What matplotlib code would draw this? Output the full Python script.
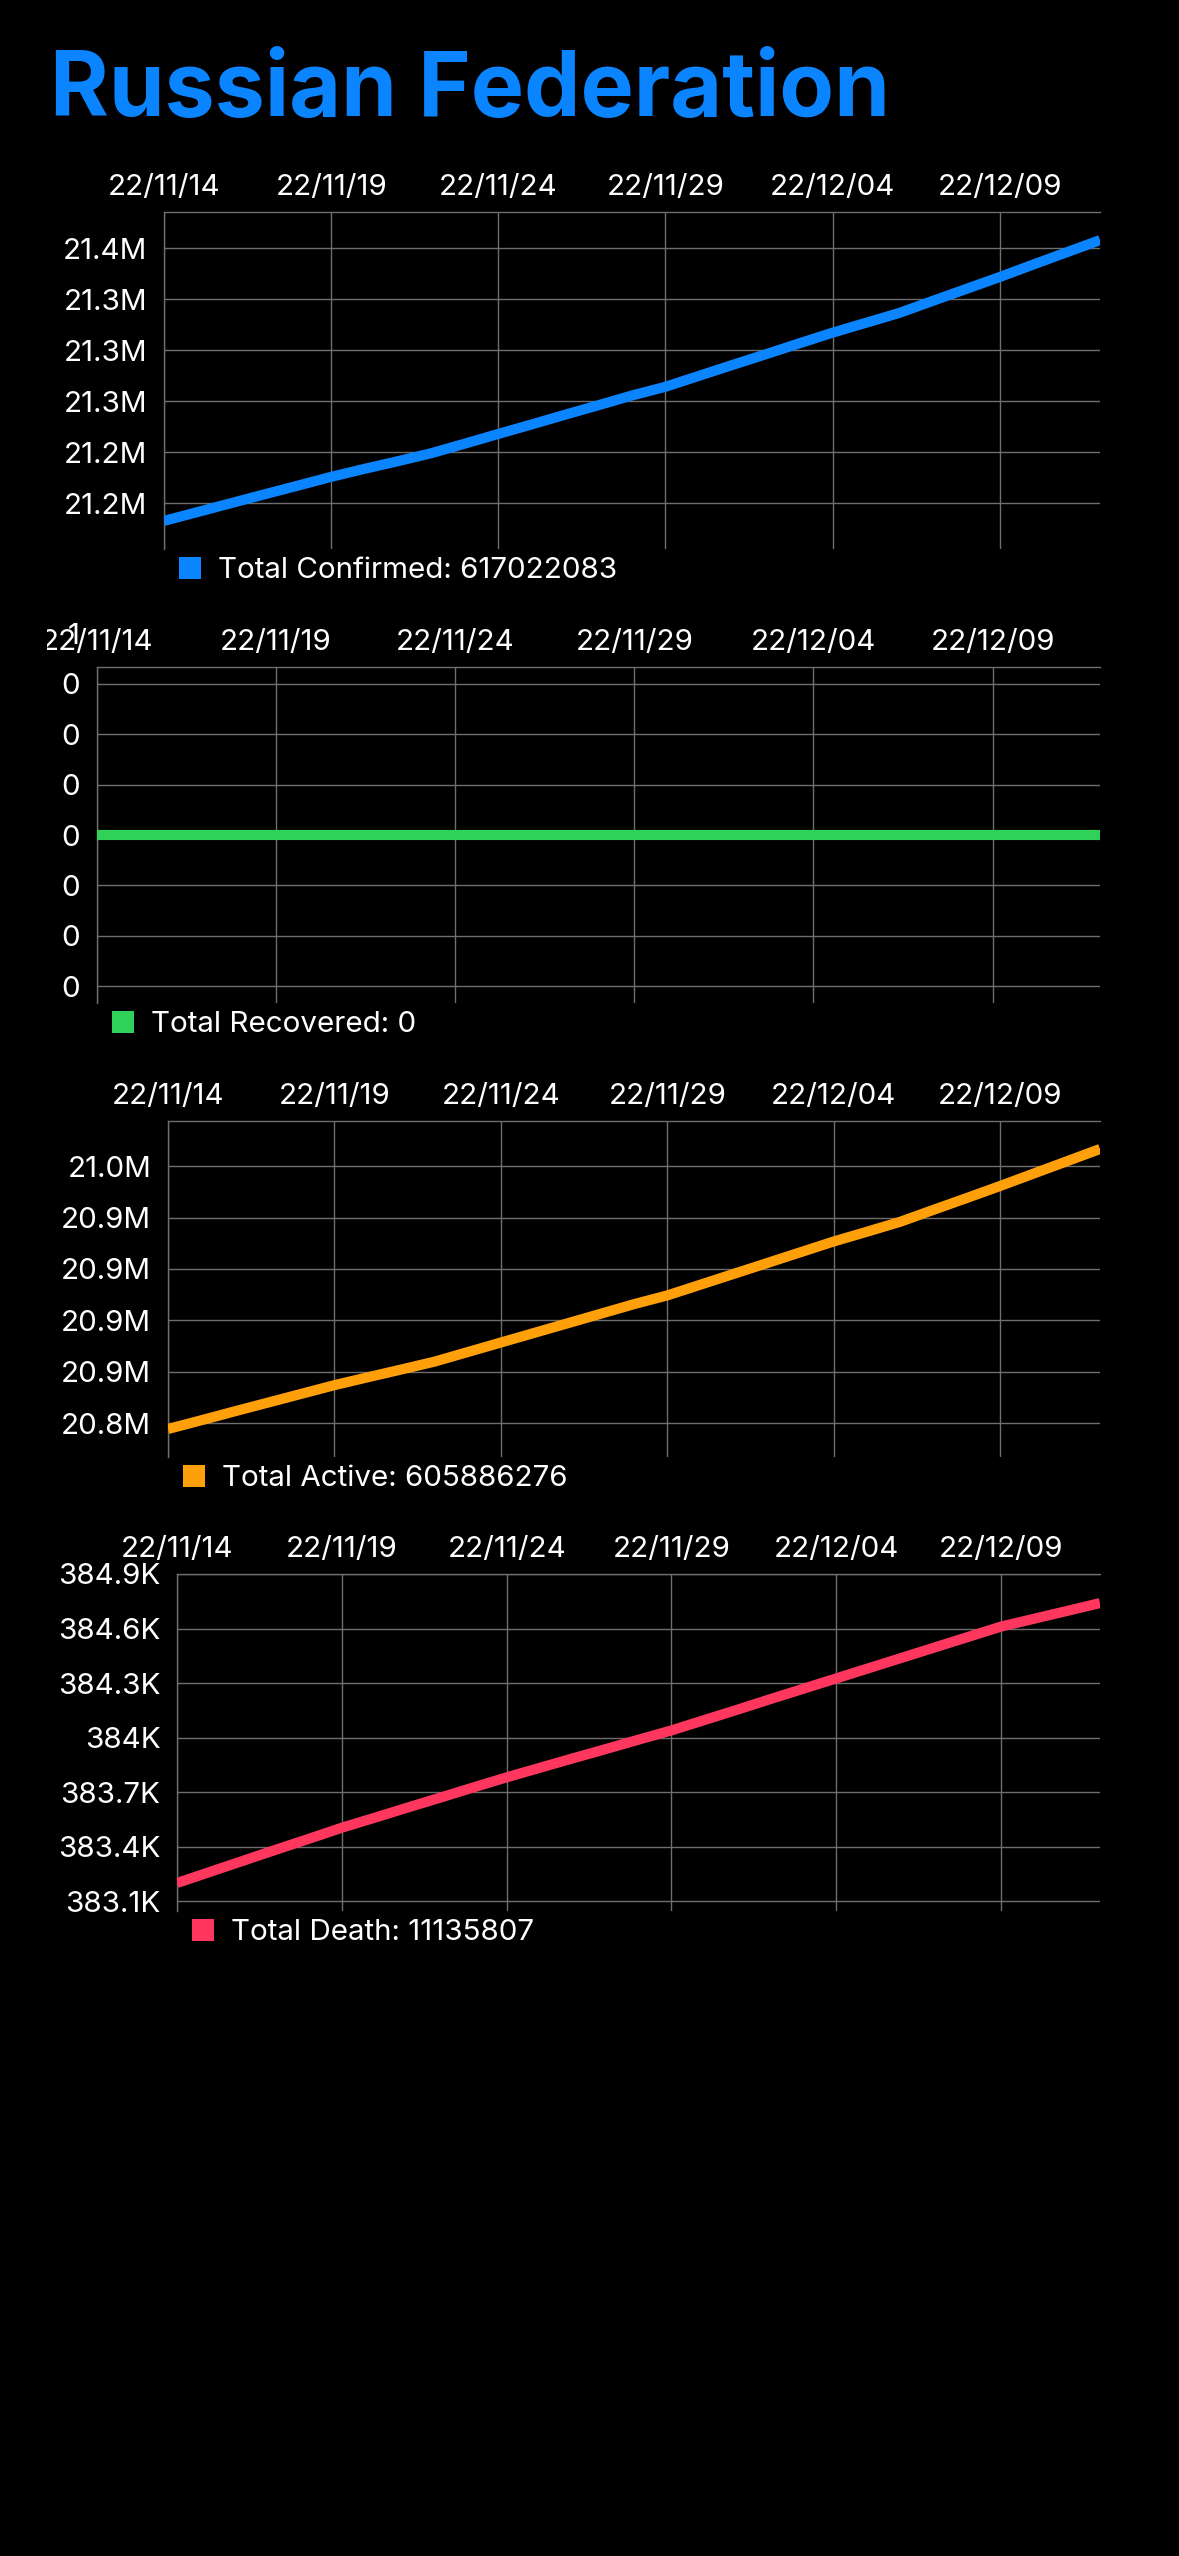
import numpy as np
import matplotlib
matplotlib.use("Agg")
import matplotlib.pyplot as plt
import matplotlib.dates as mdates
from matplotlib.patches import Rectangle
from matplotlib.transforms import Affine2D, Bbox, TransformedBbox, offset_copy, blended_transform_factory

W, H, DPI = 1179, 2556, 100

plt.rcParams['font.family'] = ['Inter', 'DejaVu Sans']

country = "Russian Federation"

# one point per day, 22/11/14 .. 22/12/12
dates = np.arange("2022-11-14", "2022-12-13", dtype="datetime64[D]")
tick_dates = np.array(["2022-11-14", "2022-11-19", "2022-11-24",
                       "2022-11-29", "2022-12-04", "2022-12-09"], dtype="datetime64[D]")

confirmed = [21199700, 21204900, 21210100, 21215300, 21220400, 21225600, 21230300,
             21234800, 21239500, 21245100, 21250800, 21256400, 21262100, 21267700,
             21273400, 21278500, 21284900, 21291300, 21297600, 21304000, 21310300,
             21316100, 21321900, 21329000, 21336000, 21343000, 21350300, 21357500,
             21364700]
recovered = [0, 0, 0, 0, 0, 0, 0, 0, 0, 0, 0, 0, 0, 0, 0,
             0, 0, 0, 0, 0, 0, 0, 0, 0, 0, 0, 0, 0, 0]
active = [20816500, 20821600, 20826800, 20831900, 20837000, 20842100, 20846700,
          20851200, 20855800, 20861400, 20867000, 20872600, 20878200, 20883800,
          20889400, 20894500, 20900800, 20907100, 20913400, 20919700, 20926000,
          20931700, 20937500, 20944500, 20951400, 20958400, 20965600, 20972800,
          20980000]
deaths = [383201, 383262, 383323, 383384, 383444, 383505, 383560, 383616,
          383671, 383727, 383782, 383834, 383886, 383937, 383989, 384040,
          384097, 384154, 384212, 384269, 384326, 384383, 384440, 384497,
          384554, 384611, 384654, 384697, 384740]

series_names = ["Total Confirmed", "Total Recovered", "Total Active", "Total Death"]
totals = [617022083, 0, 605886276, 11135807]
colors = ["#0A84FF", "#30D158", "#FF9F0A", "#FF375F"]

y_ticks = [
    [21210000, 21240000, 21270000, 21300000, 21330000, 21360000],
    [-0.9, -0.6, -0.3, 0, 0.3, 0.6, 0.9],
    [20820000, 20850000, 20880000, 20910000, 20940000, 20970000],
    [383100, 383400, 383700, 384000, 384300, 384600, 384900],
]
y_labels = [
    ["21.2M", "21.2M", "21.3M", "21.3M", "21.3M", "21.4M"],
    ["0", "0", "0", "0", "0", "0", "0"],
    ["20.8M", "20.9M", "20.9M", "20.9M", "20.9M", "21.0M"],
    ["383.1K", "383.4K", "383.7K", "384K", "384.3K", "384.6K", "384.9K"],
]

# plot boxes in pixels: left, top, right, bottom
boxes = [(164, 212, 1100, 549), (97, 667, 1100, 1003),
         (168, 1121, 1100, 1457), (177, 1574, 1100, 1911)]

GRID = "#6e6e6e"
FS = 21.3

fig = plt.figure(figsize=(W / DPI, H / DPI), dpi=DPI, facecolor="black")
px = Affine2D().scale(1.0 / W, -1.0 / H).translate(0, 1) + fig.transFigure

fig.text(50, 116, country, transform=px, color="#0A84FF", fontsize=64.5,
         fontweight="bold", va="baseline", ha="left")

all_series = [confirmed, recovered, active, deaths]

for i, values in enumerate(all_series):
    l, t, r, b = boxes[i]
    ax = fig.add_axes([l / W, 1 - b / H, (r - l) / W, (b - t) / H])
    ax.set_facecolor("black")
    ax.plot(dates, values, color=colors[i], lw=7.3,
            solid_capstyle="butt", solid_joinstyle="round", zorder=3)
    ax.set_xlim(dates[0], dates[-1])
    lo, hi = min(values), max(values)
    if hi == lo:
        ax.set_ylim(lo - 1, hi + 1)
    else:
        pad = 0.1 * (hi - lo)
        ax.set_ylim(lo - pad, hi + pad)

    ax.set_xticks(tick_dates)
    ax.xaxis.set_major_formatter(mdates.DateFormatter("%y/%m/%d"))
    ax.set_yticks(y_ticks[i], y_labels[i])
    ax.xaxis.tick_top()
    ax.tick_params(axis="x", length=0, colors="white", labelsize=FS, pad=8)
    ax.tick_params(axis="y", length=0, colors="white", labelsize=FS, pad=12)
    ax.grid(True, color=GRID, lw=1.0)
    for side in ["bottom", "right"]:
        ax.spines[side].set_visible(False)
    for side in ["top", "left"]:
        ax.spines[side].set_color(GRID)
        ax.spines[side].set_linewidth(1.0)

    if i == 1:
        # first date label is cut off by the chart frame
        first = ax.xaxis.get_ticklabels()[0]
        first.set_clip_on(True)
        first.set_clip_box(TransformedBbox(Bbox.from_extents(47 / W, 0, 1, 1), fig.transFigure))
        # stray axis label above the plot
        tr = offset_copy(blended_transform_factory(ax.transAxes, ax.transData),
                         fig=fig, x=-17, y=0, units="dots")
        ax.text(0, 1.2, "1", transform=tr, color="white", fontsize=FS,
                ha="right", va="center_baseline", clip_on=False)

    # legend: colour square + text under the plot
    fig.patches.append(Rectangle((l + 15, b + 8), 22, 22, transform=px,
                                 facecolor=colors[i], edgecolor="none"))
    fig.text(l + 54, b + 29, f"{series_names[i]}: {totals[i]}", transform=px,
             color="white", fontsize=FS, va="baseline", ha="left")

fig.savefig("out.png", dpi=DPI, facecolor="black")
